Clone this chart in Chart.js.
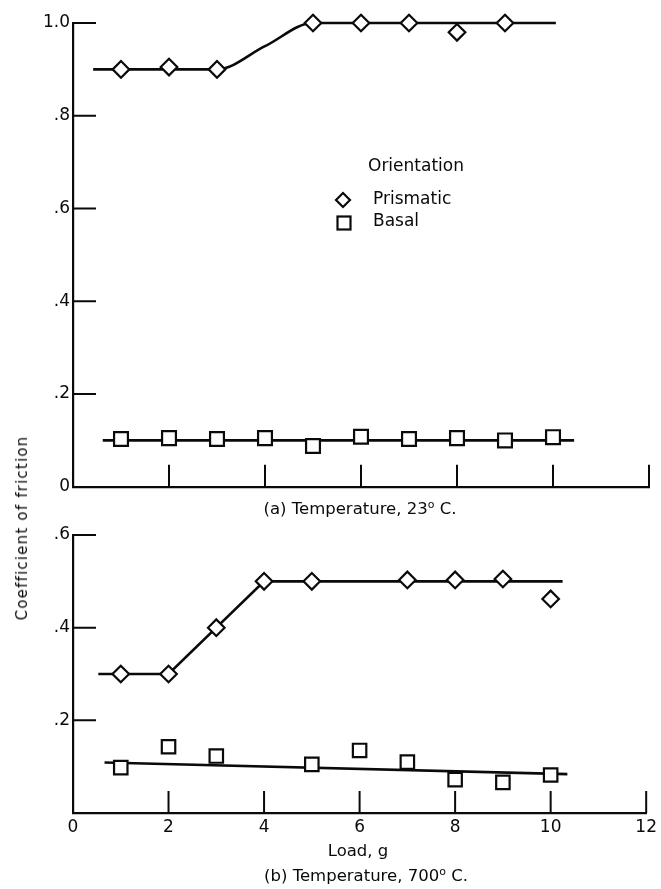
<!DOCTYPE html>
<html>
<head>
<meta charset="utf-8">
<script src="https://cdn.jsdelivr.net/npm/chart.js@4"></script>
<style>
  html, body { margin: 0; padding: 0; background: #fff; }
  #wrap { position: relative; width: 661px; height: 889px; font-family: "DejaVu Sans", sans-serif; color: #0a0a0a; }
  #topBox { position: absolute; left: 0; top: 0; }
  #botBox { position: absolute; left: 0; top: 520px; }
  .cap { position: absolute; font-size: 16.5px; white-space: nowrap; transform: translate(-50%, -50%); }
  .cap sup { font-size: 11px; }
  #ytitle { position: absolute; left: 22px; top: 528px; transform: translate(-50%, -50%) rotate(-90deg);
            font-size: 15px; letter-spacing: 1.2px; white-space: nowrap; }
</style>
</head>
<body>
<div id="wrap">
  <canvas id="topBox" width="661" height="500"></canvas>
  <canvas id="botBox" width="661" height="369"></canvas>
  <div id="ytitle">Coefficient of friction</div>
  <div class="cap" style="left:360px; top:508px;">(a) Temperature, 23<sup>o</sup> C.</div>
  <div class="cap" style="left:358px; top:850px;">Load, g</div>
  <div class="cap" style="left:366px; top:875px;">(b) Temperature, 700<sup>o</sup> C.</div>
</div>
<script>
// (a) 23 C
const prisLoadsA = [1, 2, 3, 5, 6, 7, 8, 9];
const prisA = [0.90, 0.905, 0.90, 1.0, 1.0, 1.0, 0.98, 1.0];
const basalLoadsA = [1, 2, 3, 4, 5, 6, 7, 8, 9, 10];
const basalA = [0.103, 0.105, 0.103, 0.105, 0.088, 0.108, 0.103, 0.105, 0.10, 0.107];
const prisFitXA = [0.42, 3, 4, 5, 10.06];
const prisFitYA = [0.90, 0.90, 0.95, 1.0, 1.0];
const basalFitXA = [0.62, 10.44];
const basalFitYA = [0.10, 0.10];

// (b) 700 C
const prisLoadsB = [1, 2, 3, 4, 5, 7, 8, 9, 10];
const prisB = [0.30, 0.30, 0.40, 0.50, 0.50, 0.503, 0.503, 0.505, 0.462];
const basalLoadsB = [1, 2, 3, 5, 6, 7, 8, 9, 10];
const basalB = [0.098, 0.143, 0.123, 0.105, 0.135, 0.11, 0.072, 0.066, 0.082];
const prisFitXB = [0.53, 2, 4, 10.25];
const prisFitYB = [0.30, 0.30, 0.50, 0.50];
const basalFitXB = [0.66, 10.35];
const basalFitYB = [0.109, 0.084];

const xTickVals = [2, 4, 6, 8, 10, 12];
const xTickLabels = ['0', '2', '4', '6', '8', '10', '12'];
const yTickLabelsA = ['0', '.2', '.4', '.6', '.8', '1.0'];
const yTickLabelsB = ['', '.2', '.4', '.6'];
const yTickValsA = [0.2, 0.4, 0.6, 0.8, 1.0];
const yTickValsB = [0.2, 0.4, 0.6];

const ink = '#0a0a0a';
const pts = (xs, ys) => xs.map((x, i) => ({ x: x, y: ys[i] }));

function markers(data, style, r) {
  return {
    data: data, showLine: false, pointStyle: style, pointRadius: r, pointHoverRadius: r,
    pointBackgroundColor: '#fff', pointBorderColor: ink, pointBorderWidth: 2.2,
    clip: false, order: 0
  };
}
function fitLine(data, smooth) {
  return {
    data: data, showLine: true, borderColor: ink, borderWidth: 2.6, pointRadius: 0,
    cubicInterpolationMode: smooth ? 'monotone' : 'default', tension: 0,
    clip: false, order: 1
  };
}

// tick marks pointing into the plot
const innerTicks = {
  id: 'innerTicks',
  afterDraw(chart, args, opts) {
    const { ctx, chartArea, scales } = chart;
    ctx.save();
    ctx.strokeStyle = ink;
    ctx.lineWidth = 2;
    ctx.beginPath();
    opts.xs.forEach(v => {
      const px = scales.x.getPixelForValue(v);
      ctx.moveTo(px, chartArea.bottom);
      ctx.lineTo(px, chartArea.bottom - opts.xLen);
    });
    opts.ys.forEach(v => {
      const py = scales.y.getPixelForValue(v);
      ctx.moveTo(chartArea.left, py);
      ctx.lineTo(chartArea.left + opts.yLen, py);
    });
    ctx.stroke();
    ctx.restore();
  }
};

// legend of panel (a)
const orientLegend = {
  id: 'orientLegend',
  afterDraw(chart) {
    if (chart.canvas.id !== 'topBox') return;
    const ctx = chart.ctx;
    ctx.save();
    ctx.fillStyle = ink;
    ctx.font = '17px "DejaVu Sans"';
    ctx.textBaseline = 'middle';
    ctx.fillText('Orientation', 368, 167);
    ctx.fillText('Prismatic', 373, 200);
    ctx.fillText('Basal', 373, 222);
    ctx.lineWidth = 2.2;
    ctx.strokeStyle = ink;
    ctx.beginPath();
    ctx.moveTo(336, 200); ctx.lineTo(343, 193); ctx.lineTo(350, 200); ctx.lineTo(343, 207); ctx.closePath();
    ctx.stroke();
    ctx.strokeRect(337.5, 216.5, 13, 13);
    ctx.restore();
  }
};

const tickFont = { family: 'DejaVu Sans', size: 17 };

function makeOptions(yMax, yLabels, showX, xH, yTicks) {
  return {
    responsive: false,
    animation: false,
    layout: { padding: showX ? { top: 15, right: 11, left: 0, bottom: 0 } : { top: 23, right: 11, left: 0, bottom: 0 } },
    plugins: {
      legend: { display: false },
      tooltip: { enabled: false },
      innerTicks: { xs: xTickVals, ys: yTicks, xLen: 22, yLen: 23 }
    },
    scales: {
      x: {
        type: 'linear', min: 0, max: 12,
        grid: { display: false, drawTicks: false },
        border: { display: true, color: ink, width: 2.2 },
        ticks: {
          display: showX, stepSize: 2, padding: 4, color: ink, font: tickFont,
          callback: (v, i) => xTickLabels[i]
        },
        afterFit(s) { s.height = xH; }
      },
      y: {
        min: 0, max: yMax,
        grid: { display: false, drawTicks: false },
        border: { display: true, color: ink, width: 2.2 },
        ticks: {
          stepSize: 0.2, padding: 3, color: ink, font: tickFont,
          callback: (v, i) => yLabels[i]
        },
        afterFit(s) { s.width = 73; }
      }
    }
  };
}

new Chart(document.getElementById('topBox'), {
  type: 'scatter',
  data: {
    datasets: [
      markers(pts(prisLoadsA, prisA), 'rectRot', 8.3),
      markers(pts(basalLoadsA, basalA), 'rect', 9.8),
      fitLine(pts(prisFitXA, prisFitYA), true),
      fitLine(pts(basalFitXA, basalFitYA), false)
    ]
  },
  options: makeOptions(1.0, yTickLabelsA, false, 13, yTickValsA),
  plugins: [innerTicks, orientLegend]
});

new Chart(document.getElementById('botBox'), {
  type: 'scatter',
  data: {
    datasets: [
      markers(pts(prisLoadsB, prisB), 'rectRot', 8.3),
      markers(pts(basalLoadsB, basalB), 'rect', 9.5),
      fitLine(pts(prisFitXB, prisFitYB), false),
      fitLine(pts(basalFitXB, basalFitYB), false)
    ]
  },
  options: makeOptions(0.6, yTickLabelsB, true, 76, yTickValsB),
  plugins: [innerTicks]
});
</script>
</body>
</html>
